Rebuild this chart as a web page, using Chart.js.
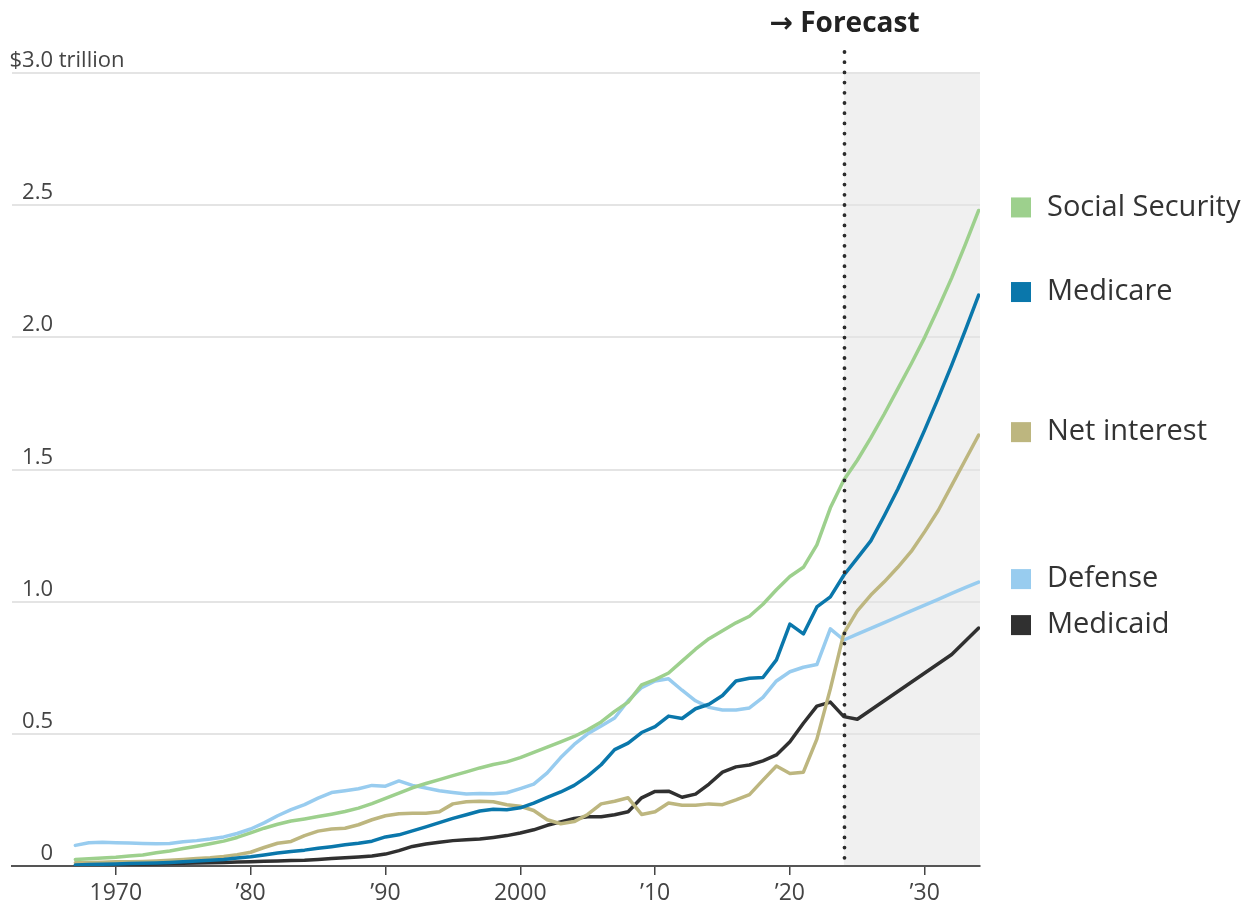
<!DOCTYPE html>
<html>
<head>
<meta charset="utf-8">
<script src="https://cdn.jsdelivr.net/npm/chart.js@4/dist/chart.umd.min.js"></script>
<style>
  html, body { margin: 0; padding: 0; background: #ffffff; }
  #wrap { position: relative; width: 1253px; height: 912px; }
</style>
</head>
<body>
<div id="wrap"><canvas id="chart" width="1253" height="912"></canvas></div>
<script>
// Federal outlays by program, trillions of dollars (fiscal years)
const years = [
  1967, 1968, 1969, 1970, 1971, 1972, 1973, 1974, 1975, 1976,
  1977, 1978, 1979, 1980, 1981, 1982, 1983, 1984, 1985, 1986,
  1987, 1988, 1989, 1990, 1991, 1992, 1993, 1994, 1995, 1996,
  1997, 1998, 1999, 2000, 2001, 2002, 2003, 2004, 2005, 2006,
  2007, 2008, 2009, 2010, 2011, 2012, 2013, 2014, 2015, 2016,
  2017, 2018, 2019, 2020, 2021, 2022, 2023, 2024, 2025, 2026,
  2027, 2028, 2029, 2030, 2031, 2032, 2033, 2034
];

const socialSecurity = [
  0.025, 0.027, 0.030, 0.033, 0.038, 0.042, 0.050, 0.057, 0.066, 0.075,
  0.084, 0.094, 0.108, 0.125, 0.143, 0.158, 0.170, 0.178, 0.187, 0.196,
  0.206, 0.219, 0.236, 0.256, 0.276, 0.296, 0.312, 0.327, 0.342, 0.356,
  0.371, 0.384, 0.394, 0.410, 0.430, 0.450, 0.470, 0.490, 0.515, 0.545,
  0.585, 0.620, 0.685, 0.705, 0.730, 0.775, 0.820, 0.860, 0.890, 0.920,
  0.945, 0.990, 1.045, 1.095, 1.130, 1.215, 1.355, 1.460, 1.535, 1.620,
  1.710, 1.805, 1.900, 2.000, 2.110, 2.225, 2.350, 2.480
];

const medicare = [
  0.004, 0.006, 0.007, 0.008, 0.009, 0.010, 0.011, 0.013, 0.016, 0.019,
  0.022, 0.025, 0.030, 0.035, 0.042, 0.049, 0.055, 0.060, 0.067, 0.073,
  0.080, 0.086, 0.094, 0.110, 0.118, 0.133, 0.148, 0.164, 0.180, 0.194,
  0.208, 0.215, 0.213, 0.220, 0.238, 0.260, 0.280, 0.305, 0.340, 0.383,
  0.440, 0.465, 0.505, 0.527, 0.567, 0.558, 0.595, 0.612, 0.645, 0.700,
  0.710, 0.713, 0.780, 0.915, 0.878, 0.980, 1.018, 1.100, 1.165, 1.230,
  1.325, 1.425, 1.535, 1.650, 1.770, 1.895, 2.025, 2.160
];

const netInterest = [
  0.012, 0.013, 0.014, 0.016, 0.016, 0.017, 0.019, 0.022, 0.025, 0.028,
  0.031, 0.036, 0.043, 0.052, 0.070, 0.086, 0.093, 0.115, 0.132, 0.140,
  0.143, 0.156, 0.175, 0.190, 0.198, 0.200, 0.200, 0.205, 0.235, 0.243,
  0.245, 0.243, 0.232, 0.226, 0.210, 0.175, 0.160, 0.168, 0.195, 0.235,
  0.245, 0.258, 0.195, 0.205, 0.238, 0.230, 0.230, 0.235, 0.232, 0.250,
  0.270, 0.325, 0.378, 0.350, 0.355, 0.480, 0.670, 0.880, 0.965, 1.025,
  1.075, 1.130, 1.190, 1.265, 1.345, 1.440, 1.535, 1.630
];

const defense = [
  0.078, 0.088, 0.090, 0.088, 0.087, 0.085, 0.084, 0.085, 0.092, 0.096,
  0.102, 0.110, 0.123, 0.140, 0.163, 0.190, 0.213, 0.232, 0.257, 0.278,
  0.285, 0.292, 0.305, 0.302, 0.322, 0.305, 0.295, 0.285, 0.278, 0.272,
  0.274, 0.273, 0.277, 0.293, 0.310, 0.352, 0.410, 0.460, 0.500, 0.530,
  0.560, 0.625, 0.675, 0.700, 0.708, 0.665, 0.625, 0.600, 0.590, 0.590,
  0.598, 0.638, 0.700, 0.735, 0.752, 0.762, 0.897, 0.855, 0.877, 0.899,
  0.921, 0.943, 0.965, 0.987, 1.009, 1.031, 1.053, 1.074
];

const medicaid = [
  0.002, 0.003, 0.004, 0.005, 0.006, 0.007, 0.008, 0.009, 0.010, 0.011,
  0.012, 0.013, 0.015, 0.016, 0.018, 0.019, 0.021, 0.022, 0.025, 0.028,
  0.031, 0.034, 0.038, 0.045, 0.058, 0.074, 0.083, 0.090, 0.096, 0.099,
  0.102, 0.108, 0.115, 0.125, 0.137, 0.154, 0.167, 0.180, 0.186, 0.186,
  0.194, 0.205, 0.258, 0.282, 0.283, 0.260, 0.272, 0.310, 0.355, 0.375,
  0.382, 0.398, 0.420, 0.470, 0.540, 0.605, 0.620, 0.565, 0.555, 0.590,
  0.625, 0.660, 0.695, 0.730, 0.765, 0.800, 0.850, 0.900
];

const seriesNames = ['Social Security', 'Medicare', 'Net interest', 'Defense', 'Medicaid'];
const seriesColors = ['#9dd08d', '#0a77ab', '#bdb67f', '#98ccef', '#303030'];
const seriesValues = [socialSecurity, medicare, netInterest, defense, medicaid];

const xTickYears = [1970, 1980, 1990, 2000, 2010, 2020, 2030];
const xTickLabels = ['1970', '\u201980', '\u201990', '2000', '\u201910', '\u201920', '\u201930'];
const yTickValues = [0, 0.5, 1.0, 1.5, 2.0, 2.5, 3.0];
const yTickLabels = ['0', '0.5', '1.0', '1.5', '2.0', '2.5', '$3.0'];
const yUnit = ' trillion';
const forecastFrom = 2024;
const forecastTo = 2034;
const forecastLabel = '\u2192 Forecast';

const FONT = "'Open Sans', 'DejaVu Sans', sans-serif";

const datasets = seriesNames.map((name, i) => ({
  label: name,
  data: years.map((yr, j) => ({ x: yr, y: seriesValues[i][j] })),
  borderColor: seriesColors[i],
  backgroundColor: seriesColors[i],
  borderWidth: 3.5,
  pointRadius: 0,
  pointHoverRadius: 0,
  tension: 0,
  borderJoinStyle: 'round',
  borderCapStyle: 'round',
  fill: false
}));

// Shaded projection band, dotted divider and its caption
const forecastPlugin = {
  id: 'forecast',
  beforeDraw(chart) {
    const { ctx, chartArea, scales } = chart;
    const x0 = scales.x.getPixelForValue(forecastFrom);
    const x1 = scales.x.getPixelForValue(forecastTo);
    ctx.save();
    ctx.fillStyle = '#f0f0f0';
    ctx.fillRect(x0, chartArea.top, Math.max(x1, chartArea.right) - x0, chartArea.bottom - chartArea.top);
    ctx.restore();
  },
  afterDatasetsDraw(chart) {
    const { ctx, chartArea, scales } = chart;
    const x = Math.round(scales.x.getPixelForValue(forecastFrom)) + 0.5;
    ctx.save();
    ctx.strokeStyle = '#2b2b2b';
    ctx.lineWidth = 3.8;
    ctx.lineCap = 'round';
    ctx.setLineDash([0, 10.2]);
    ctx.beginPath();
    ctx.moveTo(x, 52);
    ctx.lineTo(x, chartArea.bottom);
    ctx.stroke();
    ctx.setLineDash([]);
    ctx.fillStyle = '#222222';
    ctx.font = "bold 28px " + FONT;
    ctx.textAlign = 'center';
    ctx.textBaseline = 'alphabetic';
    ctx.fillText(forecastLabel, x, 32);
    ctx.restore();
  }
};

// Value labels sitting on top of the horizontal gridlines
const yLabelPlugin = {
  id: 'yLabels',
  afterDraw(chart) {
    const { ctx, scales } = chart;
    const rightEdge = 53;
    ctx.save();
    ctx.fillStyle = '#444444';
    ctx.font = "22px " + FONT;
    ctx.textBaseline = 'alphabetic';
    yTickValues.forEach((v, i) => {
      const y = scales.y.getPixelForValue(v) - 6;
      ctx.textAlign = 'right';
      ctx.fillText(yTickLabels[i], rightEdge, y);
      if (i === yTickValues.length - 1) {
        ctx.textAlign = 'left';
        ctx.fillText(yUnit, rightEdge, y);
      }
    });
    ctx.restore();
  }
};

// Series key placed beside each line's final value
const endLegendPlugin = {
  id: 'endLegend',
  afterDraw(chart) {
    const { ctx, scales } = chart;
    const boxLeft = 1011;
    const box = 20;
    const textLeft = 1047;
    ctx.save();
    ctx.font = "29px " + FONT;
    ctx.textBaseline = 'middle';
    ctx.textAlign = 'left';
    seriesNames.forEach((name, i) => {
      const vals = seriesValues[i];
      const cy = scales.y.getPixelForValue(vals[vals.length - 1]) - 3;
      ctx.fillStyle = seriesColors[i];
      ctx.fillRect(boxLeft, cy - box / 2, box, box);
      ctx.fillStyle = '#333333';
      ctx.fillText(name, textLeft, cy);
    });
    ctx.restore();
  }
};

new Chart(document.getElementById('chart'), {
  type: 'line',
  data: { datasets },
  options: {
    responsive: false,
    animation: false,
    events: [],
    layout: { padding: { left: 12, right: 273, top: 73, bottom: 0 } },
    plugins: {
      legend: { display: false },
      tooltip: { enabled: false },
      title: { display: false }
    },
    scales: {
      x: {
        type: 'linear',
        min: 1962.3,
        max: 2034.1,
        grid: {
          display: true,
          drawOnChartArea: false,
          drawTicks: true,
          tickLength: 9,
          color: '#444444',
          lineWidth: 1.5
        },
        border: { display: true, color: '#555555', width: 2 },
        ticks: {
          font: { family: FONT, size: 23 },
          color: '#444444',
          padding: 5,
          maxRotation: 0,
          autoSkip: false,
          callback: (value) => {
            const k = xTickYears.indexOf(value);
            return k >= 0 ? xTickLabels[k] : '';
          }
        },
        afterBuildTicks: (scale) => {
          scale.ticks = xTickYears.map(v => ({ value: v }));
        },
        afterFit: (scale) => { scale.height = 46; }
      },
      y: {
        type: 'linear',
        min: 0,
        max: 3.0,
        grid: {
          display: true,
          drawTicks: false,
          color: '#e4e4e4',
          lineWidth: 2
        },
        border: { display: false },
        ticks: { display: false, stepSize: 0.5 },
        afterBuildTicks: (scale) => {
          scale.ticks = yTickValues.map(v => ({ value: v }));
        },
        afterFit: (scale) => { scale.width = 0; }
      }
    }
  },
  plugins: [forecastPlugin, yLabelPlugin, endLegendPlugin]
});
</script>
</body>
</html>
